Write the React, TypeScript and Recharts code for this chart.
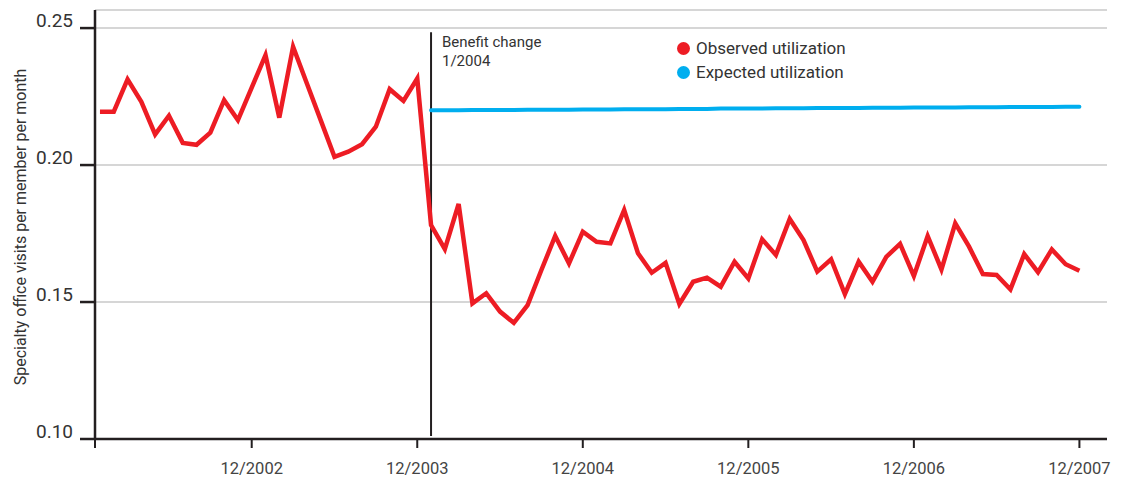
import React from 'react';
import { LineChart, Line, XAxis, YAxis, CartesianGrid, ReferenceLine } from 'recharts';

// month index 0 = 1/2002 ... 71 = 12/2007
const observed = [
  0.2195, 0.2195, 0.2313, 0.2231, 0.2112, 0.2180, 0.2081, 0.2074, 0.2118, 0.2237, 0.2164, 0.2283,
  0.2401, 0.2173, 0.2432, 0.2298, 0.2164, 0.2030, 0.2049, 0.2076, 0.2140, 0.2277, 0.2234, 0.2316,
  0.1781, 0.1693, 0.1858, 0.1495, 0.1532, 0.1465, 0.1424, 0.1489, 0.1617, 0.1741, 0.1641, 0.1757,
  0.1720, 0.1714, 0.1836, 0.1678, 0.1607, 0.1643, 0.1493, 0.1574, 0.1589, 0.1556, 0.1647, 0.1586,
  0.1729, 0.1672, 0.1803, 0.1726, 0.1611, 0.1656, 0.1529, 0.1647, 0.1574, 0.1665, 0.1712, 0.1595,
  0.1741, 0.1619, 0.1787, 0.1702, 0.1602, 0.1599, 0.1546, 0.1675, 0.1609, 0.1692, 0.1638, 0.1614,
];

// expected utilization from 1/2004 onward
const expectedStart = 24;
const expected = [
  0.2200, 0.2200, 0.2200, 0.2201, 0.2201, 0.2201, 0.2201, 0.2202, 0.2202, 0.2202, 0.2202, 0.2203,
  0.2203, 0.2203, 0.2204, 0.2204, 0.2204, 0.2204, 0.2205, 0.2205, 0.2205, 0.2206, 0.2206, 0.2206,
  0.2206, 0.2207, 0.2207, 0.2207, 0.2208, 0.2208, 0.2208, 0.2208, 0.2209, 0.2209, 0.2209, 0.2210,
  0.2210, 0.2210, 0.2210, 0.2211, 0.2211, 0.2211, 0.2212, 0.2212, 0.2212, 0.2212, 0.2213, 0.2213,
];

const xTicks = [-0.36, 11, 23, 35, 47, 59, 71];
const xTickLabels = ['', '12/2002', '12/2003', '12/2004', '12/2005', '12/2006', '12/2007'];
const yTicks = [0.1, 0.15, 0.2, 0.25];

const data = observed.map((v, i) => ({
  i,
  observed: v,
  expected: i >= expectedStart ? expected[i - expectedStart] : null,
}));

const RED = '#ed1c24';
const BLUE = '#00aeef';
const INK = '#231f20';
const FONT = 'Roboto, "Noto Sans", sans-serif';

const XTick = (props: any) => {
  const { x, y, payload } = props;
  const idx = xTicks.indexOf(payload.value);
  return (
    <text x={x} y={y + 24} textAnchor="middle" fontSize={16.5} fill="#444" fontFamily={FONT}>
      {xTickLabels[idx]}
    </text>
  );
};

const YTick = (props: any) => {
  const { y, payload } = props;
  return (
    <text x={73} y={y - 1} textAnchor="end" fontSize={19} fill="#333" fontFamily={FONT}>
      {payload.value.toFixed(2)}
    </text>
  );
};

const YLabel = () => (
  <text
    x={26}
    y={227}
    transform="rotate(-90 26 227)"
    textAnchor="middle"
    fontSize={16}
    fill="#333"
    fontFamily={FONT}
  >
    Specialty office visits per member per month
  </text>
);

const legendItems = [
  { label: 'Observed utilization', color: RED },
  { label: 'Expected utilization', color: BLUE },
];

export default function App() {
  return (
    <div style={{ position: 'relative', width: 1126, height: 481, background: '#fff' }}>
      <style>{`body{margin:0}`}</style>
      <LineChart width={1126} height={481} data={data} margin={{ top: 10, right: 19, bottom: 0, left: 0 }}>
        <CartesianGrid horizontal vertical={false} stroke="#c8c8c8" strokeWidth={1.5} />
        <XAxis
          dataKey="i"
          type="number"
          domain={[-0.36, 73]}
          ticks={xTicks}
          height={42}
          tickSize={9}
          tickLine={{ stroke: INK, strokeWidth: 2 }}
          axisLine={{ stroke: INK, strokeWidth: 2.5 }}
          tick={<XTick />}
          allowDataOverflow
        />
        <YAxis
          type="number"
          domain={[0.1, 0.2566]}
          ticks={yTicks}
          width={95}
          tickSize={15}
          tickLine={{ stroke: INK, strokeWidth: 2.5 }}
          axisLine={{ stroke: INK, strokeWidth: 2.5 }}
          tick={<YTick />}
          label={<YLabel />}
          allowDataOverflow
        />
        <ReferenceLine
          segment={[
            { x: expectedStart, y: 0.2485 },
            { x: expectedStart, y: 0.1011 },
          ]}
          stroke={INK}
          strokeWidth={2}
        />
        <Line
          type="linear"
          dataKey="expected"
          name="Expected utilization"
          stroke={BLUE}
          strokeWidth={4}
          strokeLinecap="round"
          dot={false}
          activeDot={false}
          isAnimationActive={false}
        />
        <Line
          type="linear"
          dataKey="observed"
          name="Observed utilization"
          stroke={RED}
          strokeWidth={4.5}
          dot={false}
          activeDot={false}
          isAnimationActive={false}
        />
      </LineChart>
      <div
        style={{
          position: 'absolute',
          left: 442,
          top: 33,
          fontFamily: FONT,
          fontSize: 15,
          lineHeight: '19px',
          color: '#333',
        }}
      >
        Benefit change
        <br />
        1/2004
      </div>
      <div style={{ position: 'absolute', left: 677, top: 36, fontFamily: FONT, fontSize: 17, color: '#333' }}>
        {legendItems.map((it) => (
          <div key={it.label} style={{ display: 'flex', alignItems: 'center', height: 24 }}>
            <span
              style={{
                width: 13,
                height: 13,
                borderRadius: '50%',
                background: it.color,
                display: 'inline-block',
                marginRight: 6,
              }}
            />
            <span>{it.label}</span>
          </div>
        ))}
      </div>
    </div>
  );
}
